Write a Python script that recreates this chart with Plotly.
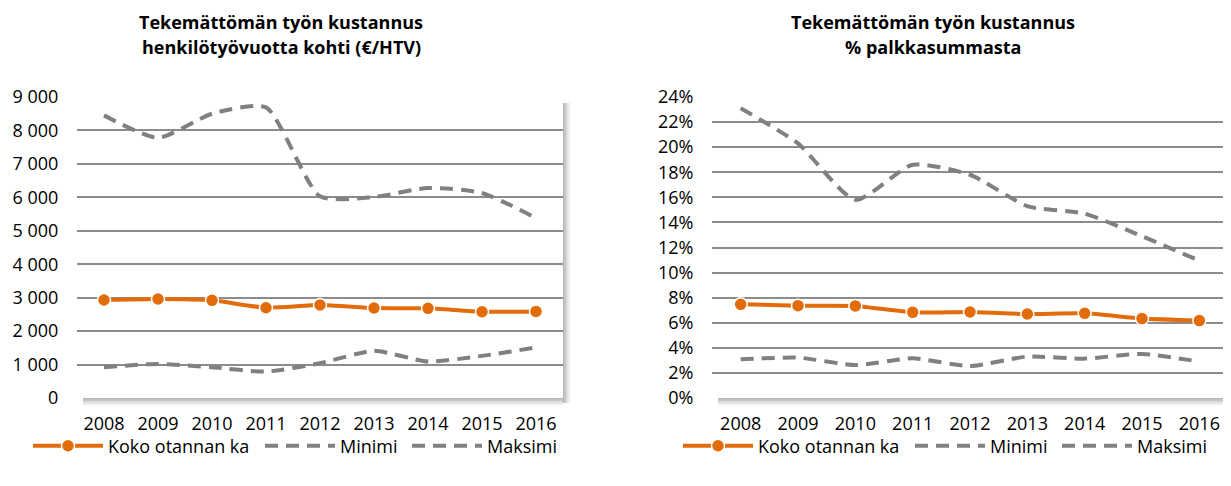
import plotly.graph_objects as go

years = ["2008", "2009", "2010", "2011", "2012", "2013", "2014", "2015", "2016"]

# Left chart: €/HTV
eur_koko = [2930, 2960, 2920, 2700, 2780, 2690, 2680, 2580, 2590]
eur_min = [920, 1020, 920, 790, 1040, 1410, 1090, 1260, 1510]
eur_max = [8450, 7780, 8500, 8690, 6030, 6010, 6280, 6130, 5380]

# Right chart: % of payroll
pct_koko = [7.47, 7.36, 7.34, 6.83, 6.86, 6.70, 6.75, 6.33, 6.17]
pct_min = [3.08, 3.22, 2.63, 3.16, 2.55, 3.30, 3.14, 3.51, 2.90]
pct_max = [23.1, 20.3, 15.8, 18.6, 17.8, 15.3, 14.7, 12.9, 10.95]

left_ticks = [0, 1000, 2000, 3000, 4000, 5000, 6000, 7000, 8000, 9000]
left_labels = ["0", "1 000", "2 000", "3 000", "4 000", "5 000", "6 000", "7 000", "8 000", "9 000"]
right_ticks = [0, 2, 4, 6, 8, 10, 12, 14, 16, 18, 20, 22, 24]
right_labels = ["0%", "2%", "4%", "6%", "8%", "10%", "12%", "14%", "16%", "18%", "20%", "22%", "24%"]

series_names = ["Koko otannan ka", "Minimi", "Maksimi"]
titles_left = ["Tekemättömän työn kustannus", "henkilötyövuotta kohti (€/HTV)"]
titles_right = ["Tekemättömän työn kustannus", "% palkkasummasta"]

# page body has an 8px margin: lay the figure out in window pixels
OFF = 8
W, H = 1231 - OFF, 486 - OFF
ORANGE = "#E36C0A"
GRAY = "#808080"
GRID = "#8C8C8C"
FONT = "Open Sans"
FS = 18
DASH = "13px,8px"


def px(x):
    return (x - OFF) / W


def py(y):
    return 1 - (y - OFF) / H


fig = go.Figure()

legend_x = {  # symbol start x in window px for each legend entry
    "legend2": 33, "legend3": 265, "legend4": 412,
    "legend5": 683, "legend6": 915, "legend7": 1062,
}


def add_series(xa, ya, koko, mn, mx, legs):
    fig.add_trace(go.Scatter(x=years, y=koko, name=series_names[0], mode="lines+markers",
                             line=dict(color=ORANGE, width=4, shape="spline", smoothing=0.6),
                             marker=dict(size=13, color=ORANGE, line=dict(color="white", width=1.5)),
                             xaxis=xa, yaxis=ya, legend=legs[0], showlegend=True))
    fig.add_trace(go.Scatter(x=years, y=mn, name=series_names[1], mode="lines",
                             line=dict(color=GRAY, width=4, dash=DASH, shape="spline", smoothing=0.6),
                             xaxis=xa, yaxis=ya, legend=legs[1], showlegend=True))
    fig.add_trace(go.Scatter(x=years, y=mx, name=series_names[2], mode="lines",
                             line=dict(color=GRAY, width=4, dash=DASH, shape="spline", smoothing=0.6),
                             xaxis=xa, yaxis=ya, legend=legs[2], showlegend=True))


add_series("x", "y", eur_koko, eur_min, eur_max, ["legend2", "legend3", "legend4"])
add_series("x2", "y2", pct_koko, pct_min, pct_max, ["legend5", "legend6", "legend7"])

L = (77, 563)
R = (712, 1228)
TOP, BOT = 97, 398

tickfont = dict(family=FONT, size=FS, color="#000000")

xcommon = dict(type="category", range=[-0.5, 8.5], showgrid=False, zeroline=False,
               showline=False, ticks="outside", ticklen=9, tickcolor="rgba(0,0,0,0)",
               tickfont=tickfont, fixedrange=True, automargin=False)
ycommon = dict(showgrid=True, gridcolor=GRID, gridwidth=2, zeroline=False, showline=False,
               ticks="outside", ticklen=14, tickcolor="rgba(0,0,0,0)", tickfont=tickfont,
               fixedrange=True, automargin=False, tickmode="array")

legfont = dict(family=FONT, size=FS, color="#000000")

layout_legends = {}
for name, lx in legend_x.items():
    layout_legends[name] = dict(orientation="h", x=px(lx - 5), y=py(446), xanchor="left",
                                yanchor="middle", font=legfont, itemwidth=70,
                                bgcolor="rgba(0,0,0,0)", borderwidth=0)

fig.update_layout(
    width=W, height=H,
    showlegend=True,
    margin=dict(l=0, r=0, t=0, b=0, pad=0, autoexpand=False),
    paper_bgcolor="white", plot_bgcolor="white",
    font=dict(family=FONT, size=FS, color="#000000"),
    xaxis=dict(domain=[px(L[0]), px(L[1])], anchor="y", **xcommon),
    yaxis=dict(domain=[py(BOT), py(TOP)], anchor="x", range=[0, 9000],
               tickvals=left_ticks, ticktext=left_labels, **ycommon),
    xaxis2=dict(domain=[px(R[0]), px(R[1])], anchor="y2", **xcommon),
    yaxis2=dict(domain=[py(BOT), py(TOP)], anchor="x2", range=[0, 24],
                tickvals=right_ticks, ticktext=right_labels, **ycommon),
    **layout_legends,
)

# drop shadow strips (right and bottom of each plot area)
shapes = []
for (x0, x1) in (L, R):
    for i, op in enumerate([0.42, 0.32, 0.22, 0.13, 0.06]):
        shapes.append(dict(type="rect", xref="paper", yref="paper",
                           x0=px(x1 + i * 1.5), x1=px(x1 + (i + 1) * 1.5),
                           y0=py(BOT + 5), y1=py(TOP + 6),
                           fillcolor=f"rgba(80,80,80,{op})", line=dict(width=0), layer="below"))
        shapes.append(dict(type="rect", xref="paper", yref="paper",
                           x0=px(x0 + 6), x1=px(x1),
                           y0=py(BOT + i * 1.5), y1=py(BOT + (i + 1) * 1.5),
                           fillcolor=f"rgba(80,80,80,{op})", line=dict(width=0), layer="below"))
fig.update_layout(shapes=shapes)

annotations = []
for cx, lines in ((281, titles_left), (933, titles_right)):
    for k, t in enumerate(lines):
        annotations.append(dict(text=f"<b>{t}</b>", xref="paper", yref="paper",
                                x=px(cx), y=py(22 + 25 * k), xanchor="center", yanchor="middle",
                                showarrow=False, font=dict(family=FONT, size=FS, color="#000000")))
fig.update_layout(annotations=annotations)

fig.write_html("out.html")
